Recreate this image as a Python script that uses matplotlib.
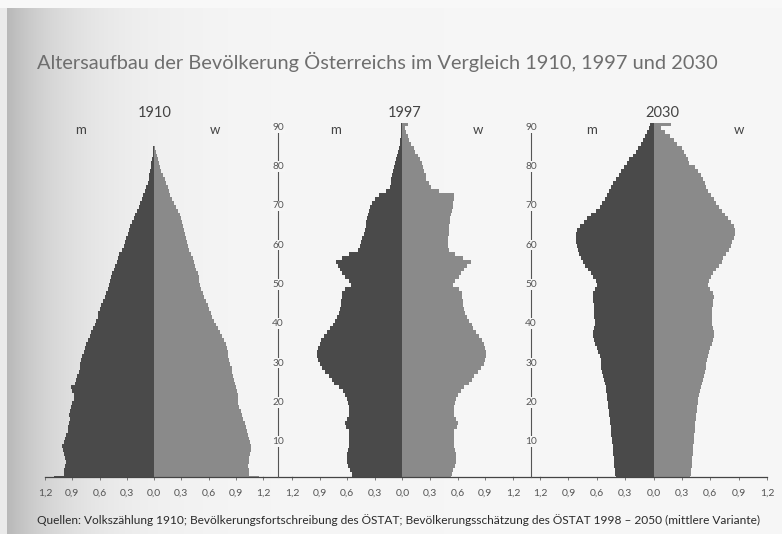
import numpy as np
import matplotlib
matplotlib.use("Agg")
import matplotlib.pyplot as plt
from matplotlib.lines import Line2D

plt.rcParams['font.family'] = ['Lato', 'DejaVu Sans']

# Anteil an der Gesamtbevölkerung in % je Altersjahr (0 .. 90+)
ages = list(range(91))

m_1910 = [1.10, 0.99, 0.99, 0.98, 0.97, 0.98, 0.99, 1.00, 1.01, 0.99,
          0.98, 0.97, 0.95, 0.95, 0.94, 0.93, 0.94, 0.92, 0.91, 0.90,
          0.88, 0.88, 0.90, 0.91, 0.87, 0.86, 0.85, 0.83, 0.82, 0.81,
          0.80, 0.79, 0.77, 0.76, 0.75, 0.73, 0.70, 0.69, 0.67, 0.65,
          0.64, 0.62, 0.62, 0.60, 0.58, 0.56, 0.54, 0.53, 0.51, 0.50,
          0.48, 0.47, 0.46, 0.44, 0.43, 0.41, 0.40, 0.38, 0.35, 0.33,
          0.32, 0.31, 0.29, 0.27, 0.26, 0.24, 0.22, 0.21, 0.19, 0.17,
          0.15, 0.13, 0.12, 0.10, 0.09, 0.07, 0.06, 0.05, 0.04, 0.035,
          0.03, 0.02, 0.015, 0.01, 0.008, 0, 0, 0, 0, 0, 0]
w_1910 = [1.16, 1.05, 1.05, 1.04, 1.05, 1.05, 1.06, 1.07, 1.07, 1.06,
          1.05, 1.03, 1.02, 1.01, 1.00, 0.98, 0.97, 0.96, 0.94, 0.93,
          0.92, 0.92, 0.91, 0.90, 0.89, 0.88, 0.87, 0.86, 0.86, 0.84,
          0.83, 0.82, 0.81, 0.80, 0.79, 0.77, 0.75, 0.73, 0.70, 0.68,
          0.66, 0.64, 0.63, 0.61, 0.59, 0.57, 0.55, 0.54, 0.52, 0.51,
          0.50, 0.49, 0.48, 0.46, 0.45, 0.44, 0.43, 0.41, 0.39, 0.37,
          0.36, 0.35, 0.34, 0.33, 0.32, 0.31, 0.30, 0.29, 0.26, 0.24,
          0.22, 0.20, 0.18, 0.16, 0.15, 0.13, 0.12, 0.10, 0.08, 0.07,
          0.05, 0.04, 0.03, 0.02, 0.01, 0, 0, 0, 0, 0, 0]

m_1997 = [0.55, 0.55, 0.57, 0.59, 0.60, 0.60, 0.60, 0.59, 0.58, 0.58,
          0.58, 0.58, 0.58, 0.61, 0.62, 0.60, 0.58, 0.58, 0.58, 0.59,
          0.60, 0.62, 0.65, 0.69, 0.74, 0.77, 0.80, 0.84, 0.87, 0.90,
          0.92, 0.93, 0.93, 0.92, 0.90, 0.88, 0.85, 0.82, 0.79, 0.76,
          0.73, 0.71, 0.69, 0.68, 0.67, 0.67, 0.66, 0.66, 0.62, 0.56,
          0.58, 0.62, 0.66, 0.68, 0.70, 0.72, 0.66, 0.58, 0.48, 0.46,
          0.45, 0.44, 0.42, 0.41, 0.40, 0.40, 0.39, 0.37, 0.36, 0.35,
          0.33, 0.30, 0.26, 0.18, 0.14, 0.13, 0.12, 0.11, 0.10, 0.09,
          0.08, 0.07, 0.06, 0.045, 0.04, 0.03, 0.03, 0.02, 0.02, 0.015,
          0.02]
w_1997 = [0.53, 0.54, 0.55, 0.57, 0.58, 0.58, 0.58, 0.57, 0.56, 0.56,
          0.56, 0.56, 0.56, 0.59, 0.60, 0.58, 0.56, 0.56, 0.56, 0.57,
          0.58, 0.60, 0.63, 0.67, 0.72, 0.75, 0.78, 0.82, 0.85, 0.88,
          0.90, 0.91, 0.91, 0.90, 0.88, 0.86, 0.83, 0.80, 0.77, 0.75,
          0.72, 0.70, 0.68, 0.67, 0.66, 0.66, 0.65, 0.65, 0.61, 0.55,
          0.57, 0.61, 0.64, 0.67, 0.70, 0.74, 0.66, 0.57, 0.50, 0.49,
          0.49, 0.49, 0.50, 0.51, 0.51, 0.52, 0.52, 0.53, 0.54, 0.55,
          0.55, 0.56, 0.56, 0.40, 0.31, 0.29, 0.26, 0.25, 0.23, 0.22,
          0.21, 0.19, 0.17, 0.14, 0.12, 0.09, 0.07, 0.06, 0.04, 0.03,
          0.055]

m_2030 = [0.40, 0.41, 0.41, 0.42, 0.42, 0.42, 0.43, 0.43, 0.43, 0.44,
          0.44, 0.45, 0.45, 0.45, 0.46, 0.46, 0.47, 0.47, 0.48, 0.48,
          0.49, 0.49, 0.50, 0.50, 0.51, 0.52, 0.53, 0.54, 0.55, 0.55,
          0.56, 0.57, 0.59, 0.60, 0.62, 0.63, 0.64, 0.64, 0.63, 0.62,
          0.62, 0.63, 0.63, 0.63, 0.63, 0.64, 0.64, 0.64, 0.62, 0.60,
          0.61, 0.64, 0.66, 0.69, 0.72, 0.75, 0.77, 0.79, 0.80, 0.81,
          0.82, 0.82, 0.82, 0.81, 0.78, 0.74, 0.70, 0.66, 0.61, 0.57,
          0.54, 0.51, 0.49, 0.47, 0.45, 0.43, 0.40, 0.37, 0.34, 0.31,
          0.28, 0.26, 0.22, 0.19, 0.16, 0.13, 0.11, 0.09, 0.07, 0.05,
          0.04]
w_2030 = [0.39, 0.40, 0.40, 0.41, 0.41, 0.41, 0.42, 0.42, 0.42, 0.43,
          0.43, 0.43, 0.44, 0.44, 0.44, 0.45, 0.45, 0.46, 0.46, 0.47,
          0.47, 0.48, 0.49, 0.50, 0.51, 0.52, 0.53, 0.54, 0.55, 0.56,
          0.57, 0.58, 0.59, 0.60, 0.62, 0.63, 0.64, 0.64, 0.63, 0.62,
          0.62, 0.62, 0.62, 0.62, 0.63, 0.63, 0.64, 0.63, 0.60, 0.58,
          0.59, 0.61, 0.63, 0.66, 0.69, 0.72, 0.74, 0.77, 0.80, 0.82,
          0.83, 0.85, 0.86, 0.86, 0.85, 0.82, 0.79, 0.76, 0.72, 0.69,
          0.66, 0.64, 0.61, 0.58, 0.56, 0.54, 0.52, 0.50, 0.47, 0.44,
          0.38, 0.36, 0.34, 0.32, 0.30, 0.25, 0.22, 0.17, 0.12, 0.08,
          0.18]

years = ["1910", "1997", "2030"]
male = [m_1910, m_1997, m_2030]
female = [w_1910, w_1997, w_2030]
xticks = [-1.2, -0.9, -0.6, -0.3, 0.0, 0.3, 0.6, 0.9, 1.2]
age_ticks = [10, 20, 30, 40, 50, 60, 70, 80, 90]

W, H = 782, 534
fig = plt.figure(figsize=(W / 100, H / 100), dpi=100)
bg = 0.965
fig.patch.set_facecolor((bg, bg, bg))

# scanned page: darker shading towards the left edge
xx = np.arange(W)
shade = bg - 0.27 * np.exp(-xx / 65.0)
shade[:7] = 0.92
img = np.tile(shade, (H, 1))
img[:8, :] = 0.975
fig.figimage(np.dstack([img, img, img]), xo=0, yo=0, zorder=-10)

c_m = "#4a4a4a"
c_w = "#8a8a8a"
txt = "#555555"

bottom_px, top_px = 477, 123.3
y0, y1 = 0.2, 90.2
panels = [(45, 263), (292, 513), (540, 767)]
year_x = [155, 405, 662]
m_x = [81, 336, 592]
w_x = [215, 478, 739]

def fx(px):
    return px / W

def fy(py):
    return (H - py) / H

for k, (xl, xr) in enumerate(panels):
    ax = fig.add_axes([fx(xl), fy(bottom_px), fx(xr - xl), fy(top_px) - fy(bottom_px)])
    ax.set_zorder(1)
    ax.patch.set_alpha(0)
    ax.barh(ages, [-v for v in male[k]], height=1.0, color=c_m, linewidth=0, antialiased=False)
    ax.barh(ages, female[k], height=1.0, color=c_w, linewidth=0, antialiased=False)
    ax.set_xlim(-1.2, 1.2)
    ax.set_ylim(y0, y1)
    for s in ["top", "right", "left"]:
        ax.spines[s].set_visible(False)
    ax.spines["bottom"].set_color("#444444")
    ax.spines["bottom"].set_linewidth(0.9)
    ax.set_yticks([])
    ax.set_xticks(xticks)
    ax.set_xticklabels([("%.1f" % abs(t)).replace(".", ",") for t in xticks])
    ax.tick_params(axis="x", length=2.5, width=0.6, color="#666666", labelsize=7.5,
                   labelcolor=txt, pad=6)
    fig.text(fx(year_x[k]), fy(113), years[k], ha="center", va="center", fontsize=10.5, color="#444444")
    fig.text(fx(m_x[k]), fy(130), "m", ha="center", va="center", fontsize=9.5, color="#444444")
    fig.text(fx(w_x[k]), fy(130), "w", ha="center", va="center", fontsize=9.5, color="#444444")

# join the bottom axis across the gaps
for a, b in [(263, 292), (513, 540)]:
    fig.add_artist(Line2D([fx(a), fx(b)], [fy(bottom_px), fy(bottom_px)], color="#444444", lw=0.9))

# age scales between the pyramids
for xa in [278, 531]:
    axa = fig.add_axes([fx(xa - 10), fy(bottom_px), fx(20), fy(top_px) - fy(bottom_px)])
    axa.set_zorder(2)
    axa.set_xlim(-1, 1)
    axa.set_ylim(y0, y1)
    axa.axis("off")
    axa.plot([0, 0], [y0, 88.2], color="#555555", lw=0.8, clip_on=False)
    for a in age_ticks:
        axa.text(0, a - 0.8, str(a), ha="center", va="center", fontsize=7.3, color=txt,
                 bbox=dict(facecolor=(bg, bg, bg), edgecolor="none", pad=0.6))

fig.text(fx(37), fy(62), "Altersaufbau der Bevölkerung Österreichs im Vergleich 1910, 1997 und 2030",
         ha="left", va="center", fontsize=14.4, color="#6e6e6e")
fig.text(fx(37), fy(520),
         "Quellen: Volkszählung 1910; Bevölkerungsfortschreibung des ÖSTAT; "
         "Bevölkerungsschätzung des ÖSTAT 1998 – 2050 (mittlere Variante)",
         ha="left", va="center", fontsize=8.6, color="#2a2a2a")

fig.savefig("out.png", dpi=100, facecolor=fig.get_facecolor())
